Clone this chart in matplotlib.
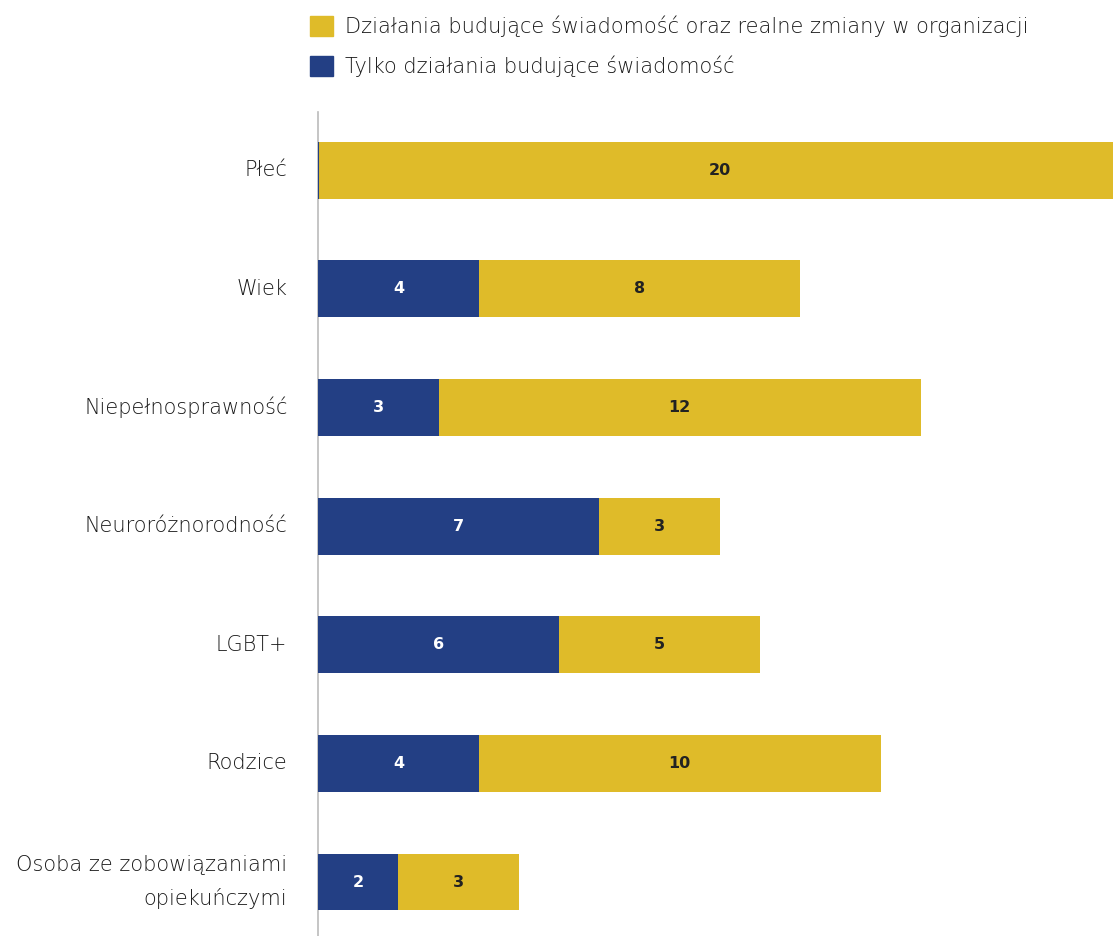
import matplotlib.pyplot as plt

plt.rcParams['font.family'] = ['DejaVu Sans']

categories = ['Płeć', 'Wiek', 'Niepełnosprawność', 'Neuroróżnorodność',
              'LGBT+', 'Rodzice', 'Osoba ze zobowiązaniami\nopiekuńczymi']
awareness_only = [0, 4, 3, 7, 6, 4, 2]
awareness_and_change = [20, 8, 12, 3, 5, 10, 3]

series_names = ['Działania budujące świadomość oraz realne zmiany w organizacji',
                'Tylko działania budujące świadomość']

blue = '#233f84'
yellow = '#dfbb29'
text_col = '#1a1a1a'

fig = plt.figure(figsize=(11.13, 9.36), dpi=100)
ax = fig.add_axes([318 / 1113, 0, 1 - 318 / 1113, 1 - 112 / 936])

y = list(range(len(categories)))
# zero-length segments still show as a thin sliver
edge_w = [1.5 if v == 0 else 0 for v in awareness_only]
bars_b = ax.barh(y, awareness_only, height=0.48, color=blue,
                 edgecolor=blue, linewidth=edge_w, zorder=3)
bars_y = ax.barh(y, awareness_and_change, left=awareness_only, height=0.48,
                 color=yellow, linewidth=0, zorder=2)

for rect, v in zip(bars_b, awareness_only):
    if v > 0:
        ax.text(rect.get_x() + rect.get_width() / 2, rect.get_y() + rect.get_height() / 2,
                str(v), ha='center', va='center', color='white',
                fontsize=11.5, fontweight='bold', zorder=4)
for rect, v in zip(bars_y, awareness_and_change):
    if v > 0:
        ax.text(rect.get_x() + rect.get_width() / 2, rect.get_y() + rect.get_height() / 2,
                str(v), ha='center', va='center', color='#222222',
                fontsize=11.5, fontweight='bold', zorder=4)

ax.set_xlim(0, 19.78)
ax.set_ylim(6.455, -0.49)
ax.set_yticks(y)
ax.set_yticklabels(categories, fontsize=15, color=text_col, fontweight='light',
                   linespacing=1.75, va='center')
ax.tick_params(axis='y', length=0, pad=22)
ax.set_xticks([])

for side in ['top', 'right', 'bottom']:
    ax.spines[side].set_visible(False)
ax.spines['left'].set_color('#bbbbbb')
ax.spines['left'].set_linewidth(1.2)

handles = [plt.Rectangle((0, 0), 1, 1, color=yellow),
           plt.Rectangle((0, 0), 1, 1, color=blue)]
fig.legend(handles, series_names, loc='upper left', bbox_to_anchor=(291 / 1113, 1.003),
           frameon=False, handlelength=1.1, handleheight=1.1,
           handletextpad=0.6, labelspacing=0.88, borderaxespad=0.5,
           labelcolor=text_col, prop={'weight': 'light', 'size': 15})

fig.savefig('out.png', dpi=100)
